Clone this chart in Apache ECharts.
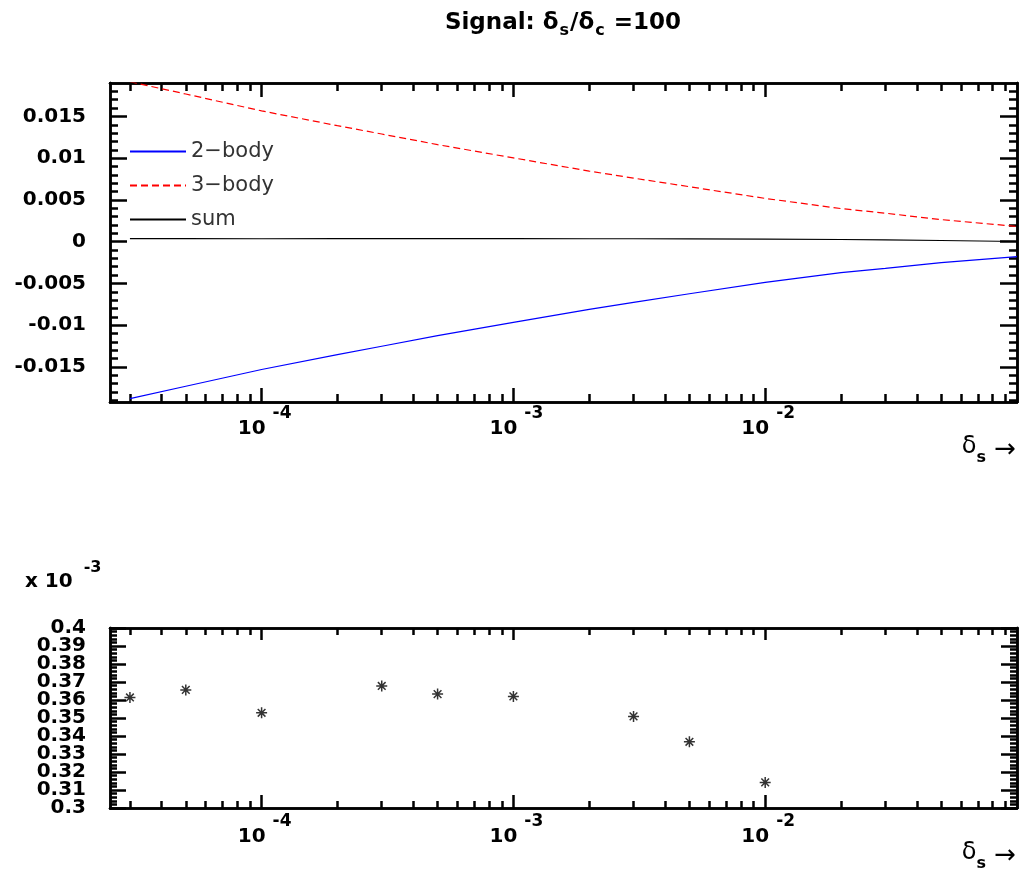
<!DOCTYPE html>
<html><head><meta charset="utf-8">
<script src="https://cdn.jsdelivr.net/npm/echarts@6/dist/echarts.min.js"></script>
<style>html,body{margin:0;padding:0;background:#fff}#c{width:1021px;height:876px}</style>
</head><body><div id="c"></div>
<script>
// ---- data ----
const xTop = [3e-5, 5e-5, 1e-4, 2e-4, 3e-4, 5e-4, 1e-3, 2e-3, 3e-3, 5e-3, 1e-2, 2e-2, 3e-2, 5e-2, 1e-1];
const twoBody = [-0.01879, -0.01731, -0.01531, -0.01353, -0.01252, -0.01126, -0.00967, -0.00810, -0.00726, -0.00624, -0.00487, -0.00370, -0.00320, -0.00250, -0.00180];
const threeBody = [0.01915, 0.01768, 0.01566, 0.01389, 0.01289, 0.01162, 0.01003, 0.00845, 0.00761, 0.00658, 0.00518, 0.00396, 0.00341, 0.00264, 0.00182];
const sumTop = [0.00036, 0.00037, 0.00035, 0.00036, 0.00037, 0.00036, 0.00036, 0.00035, 0.00035, 0.00034, 0.00031, 0.00026, 0.00021, 0.00014, 0.00002];

const xBottom = [3e-5, 5e-5, 1e-4, 3e-4, 5e-4, 1e-3, 3e-3, 5e-3, 1e-2];
const sumScaled = [0.3614, 0.3656, 0.3529, 0.3678, 0.3633, 0.3620, 0.3509, 0.3368, 0.3142]; // in units of 10^-3

// ---- ticks ----
const xMajorTicks = [1e-4, 1e-3, 1e-2];
const xMinorTicks = [3e-5, 4e-5, 5e-5, 6e-5, 7e-5, 8e-5, 9e-5,
  2e-4, 3e-4, 4e-4, 5e-4, 6e-4, 7e-4, 8e-4, 9e-4,
  2e-3, 3e-3, 4e-3, 5e-3, 6e-3, 7e-3, 8e-3, 9e-3,
  2e-2, 3e-2, 4e-2, 5e-2, 6e-2, 7e-2, 8e-2, 9e-2];
const yTopMajor = [-0.015, -0.01, -0.005, 0, 0.005, 0.01, 0.015];
const yTopMinor = [-0.019, -0.018, -0.017, -0.016, -0.014, -0.013, -0.012, -0.011, -0.009, -0.008, -0.007, -0.006,
  -0.004, -0.003, -0.002, -0.001, 0.001, 0.002, 0.003, 0.004, 0.006, 0.007, 0.008, 0.009,
  0.011, 0.012, 0.013, 0.014, 0.016, 0.017, 0.018];
const yBotMajor = [0.3, 0.31, 0.32, 0.33, 0.34, 0.35, 0.36, 0.37, 0.38, 0.39, 0.4];
const yBotLabelsEven = [0.3, 0.32, 0.34, 0.36, 0.38, 0.4];
const yBotLabelsOdd = [0.31, 0.33, 0.35, 0.37, 0.39];
const yBotMinor = [0.302, 0.304, 0.306, 0.308, 0.312, 0.314, 0.316, 0.318, 0.322, 0.324, 0.326, 0.328,
  0.332, 0.334, 0.336, 0.338, 0.342, 0.344, 0.346, 0.348, 0.352, 0.354, 0.356, 0.358,
  0.362, 0.364, 0.366, 0.368, 0.372, 0.374, 0.376, 0.378, 0.382, 0.384, 0.386, 0.388,
  0.392, 0.394, 0.396, 0.398];

const X_MIN = 2.5e-5, X_MAX = 0.1;
const YT_MIN = -0.0192, YT_MAX = 0.0190;
const YB_MIN = 0.3, YB_MAX = 0.4;

const BOLD = {fontFamily: 'DejaVu Sans', fontWeight: 'bold', color: '#000'};
const LW = 2.5;

function xAx(grid, pos, ticks, len, labelMargin) {
  const a = {
    type: 'log', logBase: 10, gridIndex: grid, position: pos, min: X_MIN, max: X_MAX,
    axisLine: {show: true, onZero: false, lineStyle: {color: '#000', width: LW}},
    axisTick: {show: true, inside: true, length: len, customValues: ticks, lineStyle: {color: '#000', width: LW}},
    splitLine: {show: false}, minorTick: {show: false}, minorSplitLine: {show: false},
    axisLabel: {show: false}
  };
  if (labelMargin !== undefined) {
    a.axisLabel = {
      show: true, customValues: xMajorTicks, margin: labelMargin, hideOverlap: false,
      formatter: v => '{a|10}{b|' + Math.round(Math.log10(v)) + '}',
      rich: {
        a: Object.assign({fontSize: 20, verticalAlign: 'top', padding: [14, 0, 0, 6]}, BOLD),
        b: Object.assign({fontSize: 17, verticalAlign: 'top', padding: [0, 0, 0, 7]}, BOLD)
      }
    };
  }
  return a;
}
function yAx(grid, pos, min, max, ticks, len, labelTicks) {
  const a = {
    type: 'value', gridIndex: grid, position: pos, min: min, max: max,
    axisLine: {show: true, onZero: false, lineStyle: {color: '#000', width: LW}},
    axisTick: {show: true, inside: true, length: len, customValues: ticks, lineStyle: {color: '#000', width: LW}},
    splitLine: {show: false}, minorTick: {show: false}, minorSplitLine: {show: false},
    axisLabel: {show: false}
  };
  if (labelTicks) {
    a.axisLabel = Object.assign({show: true, customValues: labelTicks, margin: 24, fontSize: 20,
      hideOverlap: false, showMinLabel: true, showMaxLabel: true}, BOLD);
  }
  return a;
}

const chart = echarts.init(document.getElementById('c'), null, {renderer: 'canvas'});
const asterisk = 'path://M0,5L10,5M5,0L5,10M1.5,1.5L8.5,8.5M1.5,8.5L8.5,1.5';

const axisTitle = (y) => ({type: 'text', x: 1016, y: y, style: {
  text: '{d|\u03b4}{s|s}{a| \u2192}', align: 'right', verticalAlign: 'top',
  rich: {
    d: {fontFamily: 'DejaVu Sans', fontSize: 24, verticalAlign: 'top', color: '#000'},
    s: Object.assign({fontSize: 16, verticalAlign: 'top', padding: [15, 0, 0, 0]}, BOLD),
    a: {fontFamily: 'DejaVu Sans', fontSize: 26, verticalAlign: 'top', padding: [2, 0, 0, 0], color: '#000'}
  }
}});

chart.setOption({
  animation: false,
  backgroundColor: '#fff',
  grid: [
    {left: 110, top: 83, width: 907, height: 319},
    {left: 110, top: 628, width: 907, height: 180}
  ],
  xAxis: [
    xAx(0, 'bottom', xMajorTicks, 14, 3),
    xAx(0, 'bottom', xMinorTicks, 8),
    xAx(0, 'top', xMajorTicks, 14),
    xAx(0, 'top', xMinorTicks, 8),
    xAx(1, 'bottom', xMajorTicks, 13, 5),
    xAx(1, 'bottom', xMinorTicks, 7),
    xAx(1, 'top', xMajorTicks, 12),
    xAx(1, 'top', xMinorTicks, 7)
  ],
  yAxis: [
    yAx(0, 'left', YT_MIN, YT_MAX, yTopMajor, 17, yTopMajor),
    yAx(0, 'left', YT_MIN, YT_MAX, yTopMinor, 8),
    yAx(0, 'right', YT_MIN, YT_MAX, yTopMajor, 17),
    yAx(0, 'right', YT_MIN, YT_MAX, yTopMinor, 8),
    yAx(1, 'left', YB_MIN, YB_MAX, yBotMajor, 16, yBotLabelsEven),
    yAx(1, 'left', YB_MIN, YB_MAX, yBotMinor, 7, yBotLabelsOdd),
    yAx(1, 'right', YB_MIN, YB_MAX, yBotMajor, 16),
    yAx(1, 'right', YB_MIN, YB_MAX, yBotMinor, 7)
  ],
  legend: {
    data: ['2\u2212body', '3\u2212body', 'sum'],
    orient: 'vertical', left: 129, top: 141, padding: 0,
    itemWidth: 56, itemHeight: 14, itemGap: 13,
    selectedMode: false,
    itemStyle: {opacity: 0},
    textStyle: {fontFamily: 'DejaVu Sans', fontSize: 21, color: '#333'}
  },
  series: [
    {name: '2\u2212body', type: 'line', xAxisIndex: 0, yAxisIndex: 0, symbol: 'none',
      data: xTop.map((x, i) => [x, twoBody[i]]),
      lineStyle: {color: '#0000ff', width: 1.2}, itemStyle: {color: '#0000ff'}},
    {name: '3\u2212body', type: 'line', xAxisIndex: 0, yAxisIndex: 0, symbol: 'none',
      data: xTop.map((x, i) => [x, threeBody[i]]),
      lineStyle: {color: '#ff0000', width: 1.2, type: [7, 4]}, itemStyle: {color: '#ff0000'}},
    {name: 'sum', type: 'line', xAxisIndex: 0, yAxisIndex: 0, symbol: 'none',
      data: xTop.map((x, i) => [x, sumTop[i]]),
      lineStyle: {color: '#000', width: 1.2}, itemStyle: {color: '#000'}},
    {name: 'ratio', type: 'scatter', xAxisIndex: 4, yAxisIndex: 4,
      symbol: asterisk, symbolSize: 11,
      data: xBottom.map((x, i) => [x, sumScaled[i]]),
      itemStyle: {color: 'rgba(0,0,0,0)', borderColor: '#000', borderWidth: 1.5}}
  ],
  graphic: [
    {type: 'text', x: 563, y: 12, style: {
      text: '{m|Signal: }{d|\u03b4}{s|s}{m|/}{d|\u03b4}{s|c}{m| =100}',
      align: 'center', verticalAlign: 'top',
      rich: {
        m: Object.assign({fontSize: 23, verticalAlign: 'top'}, BOLD),
        d: Object.assign({fontSize: 23, verticalAlign: 'top'}, BOLD),
        s: Object.assign({fontSize: 16, verticalAlign: 'top', padding: [11, 1, 0, 1]}, BOLD)
      }
    }},
    axisTitle(435),
    axisTitle(841),
    {type: 'text', x: 25, y: 560, style: {
      text: '{a|x 10}{b|-3}', align: 'left', verticalAlign: 'top',
      rich: {
        a: Object.assign({fontSize: 20, verticalAlign: 'top', padding: [12, 0, 0, 0]}, BOLD),
        b: Object.assign({fontSize: 16, verticalAlign: 'top', padding: [0, 0, 0, 11]}, BOLD)
      }
    }}
  ]
});
</script></body></html>
